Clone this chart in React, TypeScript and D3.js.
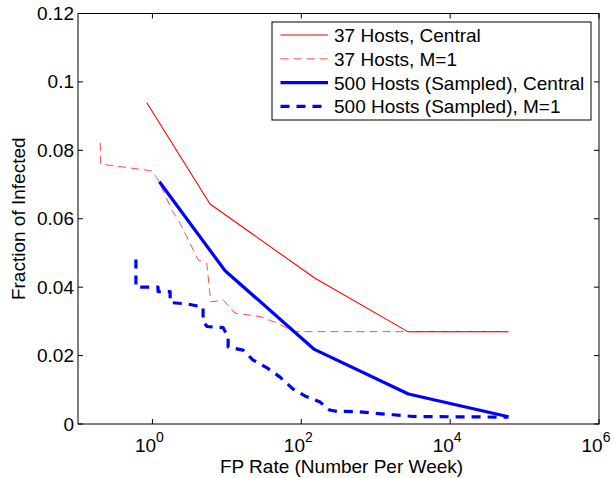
import React, { useEffect, useRef } from 'react';
import * as d3 from 'd3';

// data (x = FP per week, y = fraction infected)
const central37X = [0.84, 5.94, 153, 2700, 60800];
const central37Y = [0.0939, 0.0643, 0.0426, 0.027, 0.027];

const m1_37X = [0.2, 0.2, 0.98, 1.2, 1.82, 2.35, 4.14, 5.37, 6.08, 8.98, 12.9, 27.9, 48.7, 77.6, 2700, 60800];
const m1_37Y = [0.0822, 0.076, 0.074, 0.0713, 0.0626, 0.0587, 0.0479, 0.047, 0.0357, 0.0362, 0.0324, 0.0314, 0.0294, 0.027, 0.027, 0.027];

const central500X = [1.24, 9.46, 150, 2750, 60800];
const central500Y = [0.0708, 0.0448, 0.0218, 0.00877, 0.00213];

const m1_500X = [0.6, 0.6, 1.19, 1.19, 1.73, 1.73, 2.92, 4.79, 4.79, 5.42, 8.89, 10.4, 10.4, 16.5, 22.5, 34.7, 51.9, 77.6, 112, 179, 240, 302, 562, 1710, 3170, 60500];
const m1_500Y = [0.0481, 0.04, 0.04, 0.0387, 0.0387, 0.0355, 0.0351, 0.0342, 0.03, 0.0285, 0.0282, 0.0254, 0.0225, 0.0216, 0.0187, 0.0164, 0.0137, 0.0102, 0.0082, 0.0064, 0.0041, 0.0037, 0.0036, 0.0027, 0.0022, 0.002];

const seriesNames = ['37 Hosts, Central', '37 Hosts, M=1', '500 Hosts (Sampled), Central', '500 Hosts (Sampled), M=1'];
const xTicks = [1, 100, 10000, 1000000];
const xTickExp = ['0', '2', '4', '6'];
const yTicks = [0, 0.02, 0.04, 0.06, 0.08, 0.1, 0.12];
const yTickLabels = ['0', '0.02', '0.04', '0.06', '0.08', '0.1', '0.12'];

const App = () => {
  const svgRef = useRef(null);
  const width = 615;
  const height = 478;
  const margin = { top: 13.5, right: 16, bottom: 54, left: 78 };
  const font = '"Liberation Sans", Arial, Helvetica, sans-serif';
  const fs = 19;

  useEffect(() => {
    const svg = d3.select(svgRef.current);
    svg.selectAll('*').remove();

    const x = d3.scaleLog().domain([0.1, 1e6]).range([margin.left, width - margin.right]);
    const y = d3.scaleLinear().domain([0, 0.12]).range([height - margin.bottom, margin.top]);

    const styles = [
      { xs: central37X, ys: central37Y, color: '#ff0000', w: 1.1, dash: null },
      { xs: m1_37X, ys: m1_37Y, color: '#ff3b3b', w: 0.9, dash: '8,5' },
      { xs: central500X, ys: central500Y, color: '#0000ff', w: 3.2, dash: null },
      { xs: m1_500X, ys: m1_500Y, color: '#0000ff', w: 3.2, dash: '9,7' }
    ];

    const line = d3.line<[number, number]>().x(d => x(d[0])).y(d => y(d[1]));

    // lines (draw order as in legend)
    styles.forEach(s => {
      const pts = s.xs.map((v, i) => [v, s.ys[i]] as [number, number]);
      svg.append('path')
        .attr('d', line(pts))
        .attr('fill', 'none')
        .attr('stroke', s.color)
        .attr('stroke-width', s.w)
        .attr('stroke-dasharray', s.dash)
        .attr('stroke-linejoin', 'round');
    });

    const x0 = margin.left, x1 = width - margin.right;
    const y0 = height - margin.bottom, y1 = margin.top;
    const tl = 5;

    // box
    svg.append('rect')
      .attr('x', x0).attr('y', y1)
      .attr('width', x1 - x0).attr('height', y0 - y1)
      .attr('fill', 'none').attr('stroke', '#000').attr('stroke-width', 1);

    // x ticks (bottom and top, inward)
    xTicks.forEach((t, i) => {
      const px = x(t);
      svg.append('line').attr('x1', px).attr('x2', px).attr('y1', y0).attr('y2', y0 - tl).attr('stroke', '#000');
      svg.append('line').attr('x1', px).attr('x2', px).attr('y1', y1).attr('y2', y1 + tl).attr('stroke', '#000');
      const txt = svg.append('text')
        .attr('x', px - 3).attr('y', y0 + 28)
        .attr('text-anchor', 'middle')
        .attr('font-family', font).attr('font-size', fs)
        .attr('fill', '#000');
      txt.append('tspan').text('10');
      txt.append('tspan').attr('dy', -10).attr('font-size', 14).text(xTickExp[i]);
    });

    // y ticks
    yTicks.forEach((t, i) => {
      const py = y(t);
      svg.append('line').attr('x1', x0).attr('x2', x0 + tl).attr('y1', py).attr('y2', py).attr('stroke', '#000');
      svg.append('line').attr('x1', x1).attr('x2', x1 - tl).attr('y1', py).attr('y2', py).attr('stroke', '#000');
      svg.append('text')
        .attr('x', x0 - 4).attr('y', py + 6.5)
        .attr('text-anchor', 'end')
        .attr('font-family', font).attr('font-size', fs)
        .attr('fill', '#000')
        .text(yTickLabels[i]);
    });

    // axis titles
    svg.append('text')
      .attr('x', (x0 + x1) / 2 + 3).attr('y', y0 + 49)
      .attr('text-anchor', 'middle')
      .attr('font-family', font).attr('font-size', fs)
      .text('FP Rate (Number Per Week)');

    svg.append('text')
      .attr('transform', `translate(25, ${(y0 + y1) / 2}) rotate(-90)`)
      .attr('text-anchor', 'middle')
      .attr('font-family', font).attr('font-size', fs)
      .text('Fraction of Infected');

    // legend
    const lg = svg.append('g').attr('transform', 'translate(272, 22)');
    lg.append('rect')
      .attr('width', 319).attr('height', 98)
      .attr('fill', '#fff').attr('stroke', '#000').attr('stroke-width', 1);

    seriesNames.forEach((name, i) => {
      const ry = 13 + i * 23.8;
      const s = styles[i];
      lg.append('line')
        .attr('x1', 8.5).attr('x2', 56)
        .attr('y1', ry).attr('y2', ry)
        .attr('stroke', s.color)
        .attr('stroke-width', s.w)
        .attr('stroke-dasharray', s.dash);
      lg.append('text')
        .attr('x', 62).attr('y', ry + 7)
        .attr('font-family', font).attr('font-size', fs)
        .attr('fill', '#000')
        .text(name);
    });
  }, []);

  return (
    <div style={{ position: 'absolute', left: 0, top: 0, width: width, height: height, background: '#fff' }}>
      <svg ref={svgRef} width={width} height={height} style={{ display: 'block' }} />
    </div>
  );
};

export default App;
